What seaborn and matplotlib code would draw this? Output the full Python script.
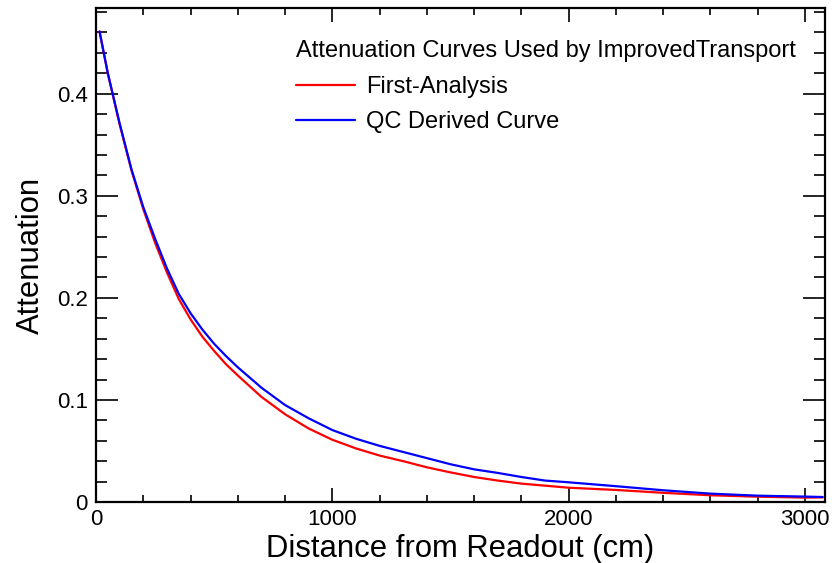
import numpy as np
import pandas as pd
import matplotlib
matplotlib.use("Agg")
import matplotlib.pyplot as plt
from matplotlib.ticker import MultipleLocator, FuncFormatter
import seaborn as sns

# ---- data ----
distance_cm = [15, 50, 100, 150, 200, 250, 300, 350, 400, 450, 500, 550, 600,
               700, 800, 900, 1000, 1100, 1200, 1300, 1400, 1500, 1600, 1700,
               1800, 1900, 2000, 2200, 2400, 2600, 2800, 3000, 3075]
first_analysis = [0.461, 0.420, 0.370, 0.325, 0.287, 0.254, 0.225, 0.199, 0.179,
                  0.162, 0.148, 0.135, 0.124, 0.103, 0.086, 0.072, 0.061, 0.0525,
                  0.0455, 0.040, 0.034, 0.029, 0.0245, 0.021, 0.018, 0.016, 0.014,
                  0.0118, 0.009, 0.0066, 0.0052, 0.0043, 0.0045]
qc_derived = [0.461, 0.420, 0.371, 0.326, 0.289, 0.258, 0.229, 0.204, 0.185,
              0.169, 0.155, 0.143, 0.132, 0.112, 0.095, 0.082, 0.0705, 0.062,
              0.055, 0.049, 0.043, 0.037, 0.032, 0.0285, 0.0245, 0.021, 0.0193,
              0.0155, 0.0115, 0.0082, 0.0062, 0.0053, 0.0049]
series_names = ["First-Analysis", "QC Derived Curve"]
legend_title = "Attenuation Curves Used by ImprovedTransport"
x_label = "Distance from Readout (cm)"
y_label = "Attenuation"

df = pd.DataFrame({
    "distance": distance_cm * 2,
    "attenuation": first_analysis + qc_derived,
    "curve": [series_names[0]] * len(distance_cm) + [series_names[1]] * len(distance_cm),
})

sns.set_style("ticks")
plt.rcParams["font.family"] = ["Liberation Sans", "DejaVu Sans"]
plt.rcParams["text.color"] = "black"
plt.rcParams["axes.labelcolor"] = "black"
plt.rcParams["xtick.color"] = "black"
plt.rcParams["ytick.color"] = "black"
plt.rcParams["axes.edgecolor"] = "black"

fig = plt.figure(figsize=(8.32, 5.63), dpi=100)
ax = fig.add_axes([96 / 832, 1 - 502 / 563, (825 - 96) / 832, (502 - 8) / 563])

sns.lineplot(data=df, x="distance", y="attenuation", hue="curve",
             palette={series_names[0]: "#ff0000", series_names[1]: "#0000ff"},
             linewidth=1.6, ax=ax, legend=True)

ax.set_xlim(0, 3085)
ax.set_ylim(0, 0.484)
ax.xaxis.set_major_locator(MultipleLocator(1000))
ax.xaxis.set_minor_locator(MultipleLocator(200))
ax.yaxis.set_major_locator(MultipleLocator(0.1))
ax.yaxis.set_minor_locator(MultipleLocator(0.02))
ax.yaxis.set_major_formatter(FuncFormatter(lambda v, p: "%g" % round(v, 3)))
ax.xaxis.set_major_formatter(FuncFormatter(lambda v, p: "%g" % v))

ax.tick_params(axis="both", which="both", direction="in", top=True, right=True,
               labelsize=16, color="black", labelcolor="black", width=1.2)
ax.tick_params(axis="x", which="major", length=10, pad=5)
ax.tick_params(axis="x", which="minor", length=5)
ax.tick_params(axis="y", which="major", length=16, pad=6)
ax.tick_params(axis="y", which="minor", length=8)
for s in ax.spines.values():
    s.set_linewidth(1.6)
    s.set_color("black")
    s.set_visible(True)

ax.set_xlabel(x_label, fontsize=22.3, labelpad=3, color="black")
ax.set_ylabel(y_label, fontsize=22.3, labelpad=8, color="black")

handles, labels = ax.get_legend_handles_labels()
leg = ax.legend(handles, labels, title=legend_title, loc="upper left",
                bbox_to_anchor=(0.2747, 0.935), frameon=False, fontsize=17,
                title_fontsize=17, handlelength=2.5, handletextpad=0.45,
                labelspacing=0.58, alignment="left", borderpad=0.0,
                borderaxespad=0.0)
for line in leg.get_lines():
    line.set_linewidth(1.6)
for t in leg.get_texts():
    t.set_color("black")
leg.get_title().set_color("black")

fig.savefig("out.png", dpi=100)
